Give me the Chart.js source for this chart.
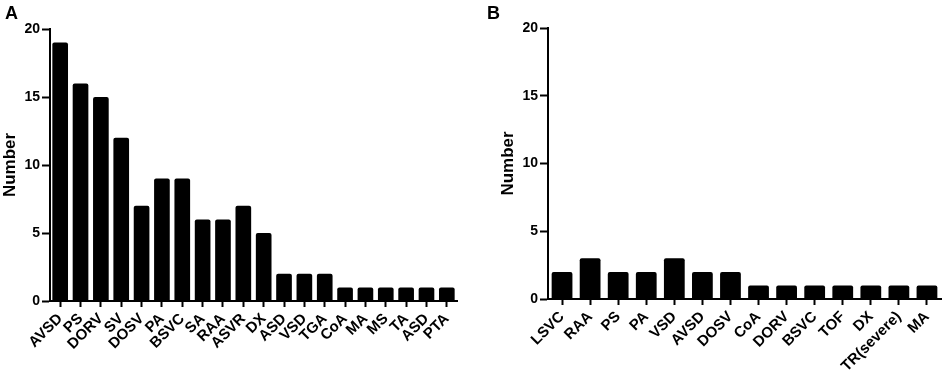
<!DOCTYPE html>
<html>
<head>
<meta charset="utf-8">
<script src="https://cdn.jsdelivr.net/npm/chart.js@4.4.1/dist/chart.umd.min.js"></script>
<style>
    html, body { margin: 0; padding: 0; background: #fff; }
    #wrap { position: relative; width: 945px; height: 377px; overflow: hidden; }
    #wrap canvas { position: absolute; top: 0; }
    .panel-letter {
        position: absolute;
        top: 4px;
        font: bold 18px "Liberation Sans", Arial, sans-serif;
        line-height: 18px;
        color: #000;
    }
</style>
</head>
<body>
<div id="wrap">
    <canvas id="chartA" width="470" height="377" style="left:0"></canvas>
    <canvas id="chartB" width="470" height="377" style="left:475px"></canvas>
    <div class="panel-letter" style="left:5px">A</div>
    <div class="panel-letter" style="left:487px">B</div>
</div>

<script>
// Panel A data
const labelsA = ['AVSD', 'PS', 'DORV', 'SV', 'DOSV', 'PA', 'BSVC', 'SA', 'RAA', 'ASVR',
                 'DX', 'ASD', 'VSD', 'TGA', 'CoA', 'MA', 'MS', 'TA', 'ASD', 'PTA'];
const valuesA = [19, 16, 15, 12, 7, 9, 9, 6, 6, 7, 5, 2, 2, 2, 1, 1, 1, 1, 1, 1];

// Panel B data
const labelsB = ['LSVC', 'RAA', 'PS', 'PA', 'VSD', 'AVSD', 'DOSV', 'CoA', 'DORV', 'BSVC',
                 'TOF', 'DX', 'TR(severe)', 'MA'];
const valuesB = [2, 3, 2, 2, 3, 2, 2, 1, 1, 1, 1, 1, 1, 1];

// Shared y axis
const yMin = 0;
const yMax = 20;
const yStep = 5;
const yTitle = 'Number';

const FONT = '"Liberation Sans", Arial, sans-serif';

/**
 * Builds one bar panel. `box` fixes the plot area so both panels line up
 * with the original figure.
 */
function buildPanel(canvasId, labels, values, box) {
    const ctx = document.getElementById(canvasId).getContext('2d');

    return new Chart(ctx, {
        type: 'bar',
        data: {
            labels: labels,
            datasets: [{
                data: values,
                backgroundColor: '#000',
                borderRadius: 2,
                categoryPercentage: 1,
                barPercentage: box.barPct
            }]
        },
        options: {
            responsive: false,
            animation: false,
            devicePixelRatio: 1,
            layout: {
                padding: { left: box.padLeft, right: box.padRight, top: box.padTop, bottom: 0 }
            },
            plugins: {
                legend: { display: false },
                tooltip: { enabled: false }
            },
            scales: {
                x: {
                    grid: {
                        offset: false,
                        drawOnChartArea: false,
                        drawTicks: true,
                        tickLength: 6,
                        tickColor: '#000',
                        tickWidth: 2
                    },
                    border: { display: true, color: '#000', width: 2 },
                    ticks: {
                        autoSkip: false,
                        minRotation: 45,
                        maxRotation: 45,
                        padding: 3,
                        color: '#000',
                        font: { family: FONT, size: 15, weight: 'bold' }
                    },
                    afterFit: function(scale) { scale.height = box.xHeight; }
                },
                y: {
                    min: yMin,
                    max: yMax,
                    grid: {
                        drawOnChartArea: false,
                        drawTicks: true,
                        tickLength: 8,
                        tickColor: '#000',
                        tickWidth: 2
                    },
                    border: { display: true, color: '#000', width: 2 },
                    ticks: {
                        stepSize: yStep,
                        padding: 2,
                        color: '#000',
                        font: { family: FONT, size: 14, weight: 'bold' }
                    },
                    title: {
                        display: true,
                        text: yTitle,
                        color: '#000',
                        padding: 0,
                        font: { family: FONT, size: 17, weight: 'bold' }
                    },
                    afterFit: function(scale) { scale.width = 50; }
                }
            }
        }
    });
}

buildPanel('chartA', labelsA, valuesA,
    { padLeft: 0, padRight: 13, padTop: 29, xHeight: 76, barPct: 0.77 });
buildPanel('chartB', labelsB, valuesB,
    { padLeft: 23, padRight: 4, padTop: 28, xHeight: 78, barPct: 0.74 });
</script>
</body>
</html>
